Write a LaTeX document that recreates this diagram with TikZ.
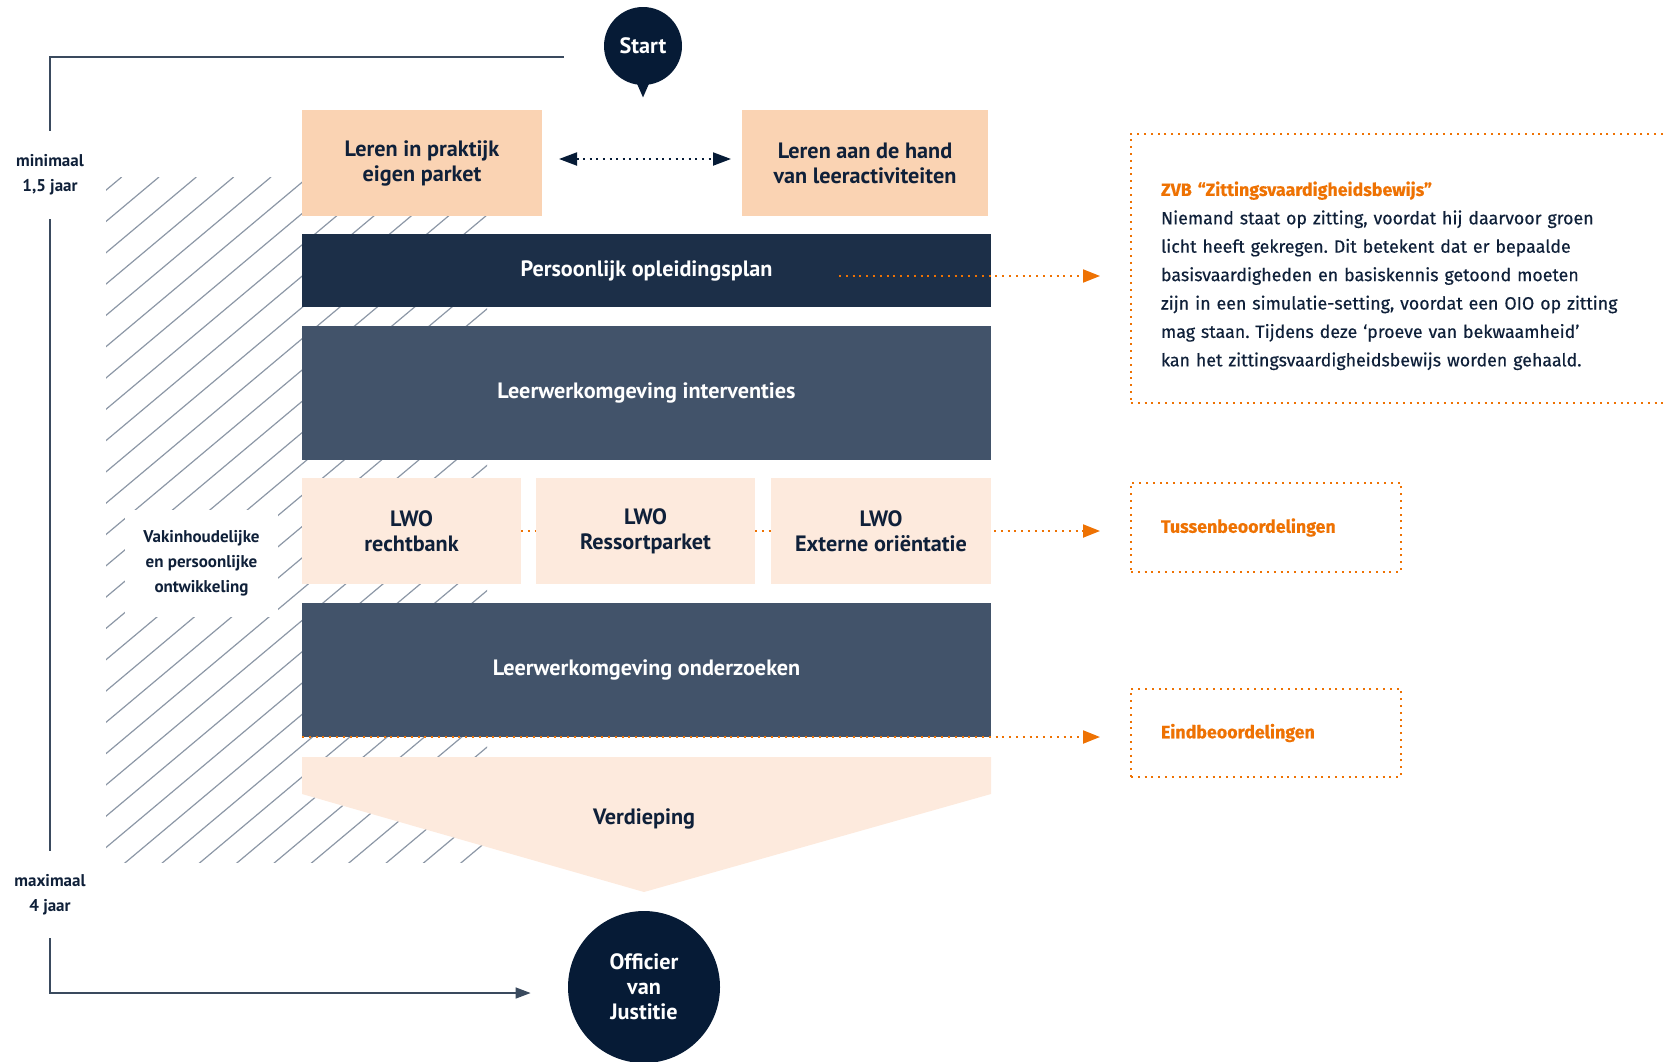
\documentclass[tikz,border=0pt]{standalone}
\usepackage{fontspec}
\setmainfont{PT Sans}
\newfontfamily\notefont{Fira Sans}[FakeBold=0.4]
\usepackage{tikz}
\usetikzlibrary{positioning,arrows.meta}
\frenchspacing

\definecolor{navy}{HTML}{061B36}
\definecolor{plannavy}{HTML}{1C2F48}
\definecolor{slate}{HTML}{42536A}
\definecolor{peach}{HTML}{FAD3B3}
\definecolor{lightpeach}{HTML}{FDEADD}
\definecolor{ink}{HTML}{0F2039}
\definecolor{zvb}{HTML}{EE7203}
\definecolor{rulegray}{HTML}{3A4A5E}
\definecolor{hatchgray}{HTML}{8C97A6}

\begin{document}
\begin{tikzpicture}[x=0.5pt, y=-0.5pt,
  titlefont/.style={font=\bfseries\fontsize{11.1}{12.5}\selectfont},
  block/.style={titlefont, anchor=north west, inner sep=0pt, outer sep=0pt, align=center},
  peachbox/.style={block, fill=peach, text=ink, minimum height=53pt},
  lwobox/.style={block, fill=lightpeach, text=ink, minimum width=109.5pt, minimum height=53pt},
  slatebox/.style={block, fill=slate, text=white, minimum width=344.5pt, minimum height=67pt},
  roundel/.style={circle, fill=navy, text=white, titlefont, inner sep=0pt, align=center},
  sidelabel/.style={font=\bfseries\fontsize{8.5}{12.5}\selectfont, text=ink, inner sep=0pt, align=center},
  notebox/.style={draw=zvb, line width=1pt, dash pattern=on 1pt off 2.4pt, anchor=north west,
    inner xsep=15pt, inner ysep=0pt, align=left, text=ink, font=\notefont\fontsize{8.9}{14.2}\selectfont},
  timeline/.style={draw=rulegray, line width=0.75pt},
  hatchline/.style={draw=hatchgray, line width=0.6pt},
  orangeflow/.style={draw=zvb, line width=1pt, dash pattern=on 1pt off 2.4pt},
  orangetip/.style={-{Triangle[length=8.5pt,width=6.5pt]}, shorten >=15pt},
  navyflow/.style={draw=navy, line width=1pt, dash pattern=on 1pt off 2.3pt}]
  \useasboundingbox (0,0) rectangle (1663,1061);
  \clip (0,0) rectangle (1663,1061);

  % hatched background
  \begin{scope}
    \clip (106,177) rectangle (487,862);
    \foreach \k in {-2,...,32}
      \draw[hatchline] ({159+37.33*\k},177) -- ++(-830,696);
  \end{scope}
  \node[sidelabel, fill=white, minimum width=76.5pt, minimum height=53.5pt] (vak) at (201.5,563.5)
    {Vakinhoudelijke\\en persoonlijke\\ontwikkeling};

  \node[roundel, minimum size=39pt] (start) at (643,46) {Start};
  \fill[navy] ([xshift=-3.5pt,yshift=2pt]start.south) -- ([xshift=3.5pt,yshift=2pt]start.south)
    -- ([yshift=-6pt]start.south) -- cycle;

  \node[peachbox, minimum width=120pt] (praktijk) at (302,110) {Leren in praktijk\\eigen parket};
  \node[peachbox, minimum width=123pt] (leerhand) at (742,110) {Leren aan de hand\\van leeractiviteiten};
  \node[block, fill=plannavy, text=white, minimum width=344.5pt, minimum height=36.5pt] (plan) at (302,234)
    {Persoonlijk opleidingsplan};
  \node[slatebox] (interventies) at (302,326) {Leerwerkomgeving interventies};
  \node[lwobox] (lwo1) at (302,478) {LWO\\rechtbank};
  \node[lwobox, right=7.5pt of lwo1.north east, anchor=north west] (lwo2) {LWO\\Ressortparket};
  \node[lwobox, minimum width=110pt, right=8pt of lwo2.north east, anchor=north west] (lwo3) {LWO\\Externe oriëntatie};
  \node[slatebox] (onderzoeken) at (302,603) {Leerwerkomgeving onderzoeken};
  \fill[lightpeach] (302,757) -- (991,757) -- (991,794) -- (644,892) -- (302,794) -- cycle;
  \node[titlefont, text=ink] (verdieping) at (644,819) {Verdieping};
  \node[roundel, minimum size=76pt] (officier) at (644,987) {Officier\\van\\Justitie};

  \node[notebox, text width=255pt, minimum width=285pt, minimum height=134.5pt] (zvbnote) at (1130,133)
    {\rule{0pt}{14.5pt}\textcolor{zvb}{\bfseries ZVB “Zittingsvaardigheidsbewijs”}\\
     Niemand staat op zitting, voordat hij daarvoor groen\\
     licht heeft gekregen. Dit betekent dat er bepaalde\\
     basisvaardigheden en basiskennis getoond moeten\\
     zijn in een simulatie-setting, voordat een OIO op zitting\\
     mag staan. Tijdens deze ‘proeve van bekwaamheid’\\
     kan het zittingsvaardigheidsbewijs worden gehaald.};
  \node[notebox, text=zvb, text width=105pt, minimum width=135pt, minimum height=44.5pt] (tussen) at (1130,482)
    {\bfseries Tussenbeoordelingen};
  \node[notebox, text=zvb, text width=105pt, minimum width=135pt, minimum height=44pt] (eind) at (1130,688)
    {\bfseries Eindbeoordelingen};

  \node[sidelabel, minimum height=44pt] (minlabel) at (50,175) {minimaal\\1,5 jaar};
  \node[sidelabel, minimum height=43.5pt] (maxlabel) at (50,894.5) {maximaal\\4 jaar};

  \draw[timeline] ([xshift=-20pt,yshift=-5.5pt]start.west) -| (minlabel.north);
  \draw[timeline] (minlabel.south) -- (maxlabel.north);
  \draw[timeline, -{Triangle[length=7.5pt,width=5.5pt]}] (maxlabel.south)
    |- ([xshift=-18.5pt,yshift=-3pt]officier.west);

  \draw[navyflow, {Triangle[length=9pt,width=6.5pt]}-{Triangle[length=9pt,width=6.5pt]},
    shorten <=8.5pt, shorten >=5.5pt] ([yshift=2pt]praktijk.east) -- ([yshift=2pt]leerhand.west);

  \coordinate (planout) at (839,276);
  \draw[orangeflow, orangetip] (planout) -- (planout -| zvbnote.west);
  \path[orangeflow]
  (lwo1) edge (lwo2)
  (lwo2) edge (lwo3);
  \draw[orangeflow, orangetip, shorten <=1.5pt] (lwo3.east) -- (lwo3.east -| tussen.west);
  \draw[orangeflow, orangetip] (onderzoeken.south west) -- (onderzoeken.south west -| eind.west);
\end{tikzpicture}
\end{document}
